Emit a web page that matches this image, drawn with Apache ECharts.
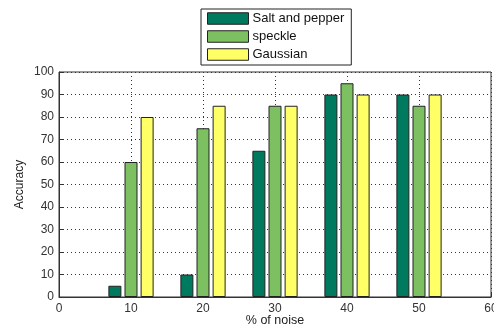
<!DOCTYPE html>
<html><head><meta charset="utf-8">
<script src="https://cdn.jsdelivr.net/npm/echarts@6/dist/echarts.min.js"></script>
<style>html,body{margin:0;padding:0;background:#fff}#c{width:494px;height:327px}</style>
</head><body><div id="c"></div>
<script>
const noise = [10, 20, 30, 40, 50];
const saltPepper = [5, 10, 65, 90, 90];
const speckle = [60, 75, 85, 95, 85];
const gaussian = [80, 85, 85, 90, 90];
const seriesNames = ['Salt and pepper', 'speckle', 'Gaussian'];
const colors = ['#007a5e', '#7dc061', '#ffff66'];

const chart = echarts.init(document.getElementById('c'), null, {renderer: 'canvas'});
const font = 'Liberation Sans, Arial, sans-serif';
const mk = (name, vals, color) => ({
  name, type: 'bar', barWidth: 13, barGap: '24%',
  data: noise.map((x, i) => [x, vals[i]]),
  itemStyle: {color, borderColor: '#222', borderWidth: 1}
});
chart.setOption({
  animation: false,
  backgroundColor: '#fff',
  grid: {left: 59, right: 3, top: 72, bottom: 30, show: true, borderColor: '#333', borderWidth: 1,
         containLabel: false, outerBoundsMode: 'none'},
  legend: {
    orient: 'vertical', left: 201, top: 9, itemWidth: 41, itemHeight: 11.5, itemGap: 5,
    padding: [3, 7, 4, 6], borderColor: '#222', borderWidth: 1,
    icon: 'rect', itemStyle: {borderColor: '#222', borderWidth: 1},
    textStyle: {fontFamily: font, fontSize: 13, color: '#111', padding: [0, 0, 0, -1]},
    data: seriesNames
  },
  xAxis: {
    type: 'value', min: 0, max: 60, interval: 10,
    name: '% of noise', nameLocation: 'middle', nameGap: 17, nameMoveOverlap: false,
    nameTextStyle: {fontFamily: font, fontSize: 12.5, color: '#222'},
    axisLine: {show: true, lineStyle: {color: '#333'}},
    axisTick: {show: true, inside: true, length: 4, lineStyle: {color: '#333'}},
    axisLabel: {fontFamily: font, fontSize: 12, color: '#333', margin: 6},
    splitLine: {show: true, lineStyle: {type: [1, 3], color: '#333'}}
  },
  yAxis: {
    type: 'value', min: 0, max: 100, interval: 10,
    name: 'Accuracy', nameLocation: 'middle', nameGap: 33, nameRotate: 90, nameMoveOverlap: false,
    nameTextStyle: {fontFamily: font, fontSize: 12, color: '#222'},
    axisLine: {show: true, lineStyle: {color: '#333'}},
    axisTick: {show: true, inside: true, length: 4, lineStyle: {color: '#333'}},
    axisLabel: {fontFamily: font, fontSize: 12, color: '#333', margin: 5},
    splitLine: {show: true, lineStyle: {type: [1, 3], color: '#333'}}
  },
  series: [mk(seriesNames[0], saltPepper, colors[0]), mk(seriesNames[1], speckle, colors[1]), mk(seriesNames[2], gaussian, colors[2])]
});
</script></body></html>
